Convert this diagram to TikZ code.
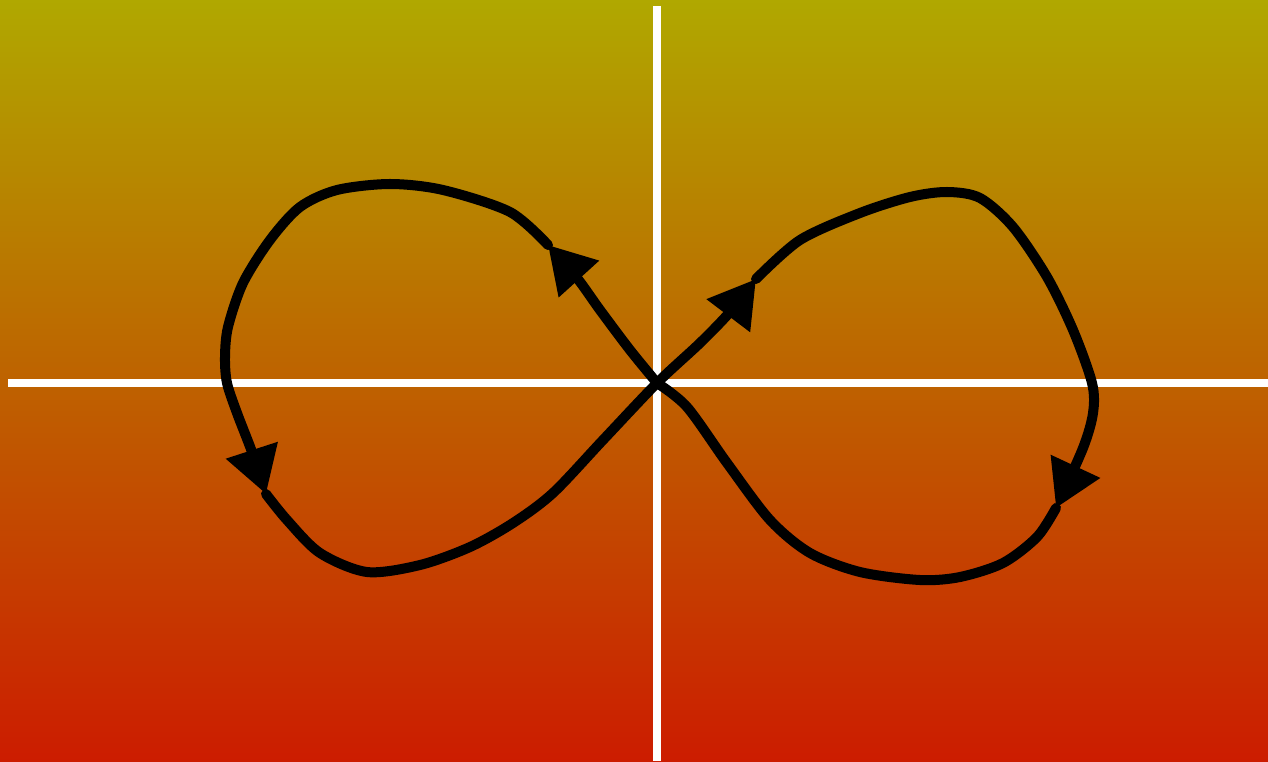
\documentclass[tikz,border=0pt]{standalone}
\usepackage{xcolor}
\usepackage{tikz}
\usetikzlibrary{arrows.meta}
\definecolor{bgtop}{RGB}{176,168,0}
\definecolor{bgbottom}{RGB}{204,28,0}

\begin{document}
\begin{tikzpicture}[
  x=0.01cm, y=-0.01cm,
  axis/.style={draw=white, line width=0.08cm},
  curve/.style={draw=black, line width=0.1cm, line join=round, line cap=round},
  arr/.style={curve, -{Triangle[length=0.46cm, width=0.52cm]}}
]
  % background
  \shade[top color=bgtop, bottom color=bgbottom] (0,0) rectangle (1268,761);
  \useasboundingbox (0,0) rectangle (1268,761);

  % axes
  \coordinate (o) at (657,383);
  \coordinate (ytop) at (657,6);
  \coordinate (ybot) at (657,761);
  \coordinate (xleft) at (8,383);
  \coordinate (xright) at (1268,383);
  \draw[axis] (ytop) -- (ybot);
  \draw[axis] (xleft) -- (xright);

  % arrow tips along the loop
  \coordinate (t1) at (548,245);
  \coordinate (t2) at (266,494);
  \coordinate (t3) at (756,279);
  \coordinate (t4) at (1056,508);

  \draw[arr] plot[smooth, tension=0.5] coordinates {(o) (630,350) (600,310) (577,278) (t1)};
  \draw[arr] plot[smooth, tension=0.5] coordinates {(t1) (510,212) (443,190) (390,184) (337,190) (300,207)
    (270,240) (243,283) (228,327) (225,357) (227,383) (237,413) (252,452) (t2)};
  \draw[arr] plot[smooth, tension=0.5] coordinates {(t2) (287,520) (320,553) (367,572) (420,565) (470,547)
    (513,523) (553,493) (603,440) (o) (700,343) (730,312) (t3)};
  \draw[arr] plot[smooth, tension=0.5] coordinates {(t3) (800,240) (860,213) (910,197) (947,192) (980,198)
    (1013,227) (1047,277) (1073,330) (1092,383) (1093,413) (1083,448) (t4)};
  \draw[curve] plot[smooth, tension=0.5] coordinates {(t4) (1037,537) (1003,563) (960,577) (920,580) (860,572)
    (810,553) (770,520) (727,463) (687,407) (o)};
\end{tikzpicture}
\end{document}
